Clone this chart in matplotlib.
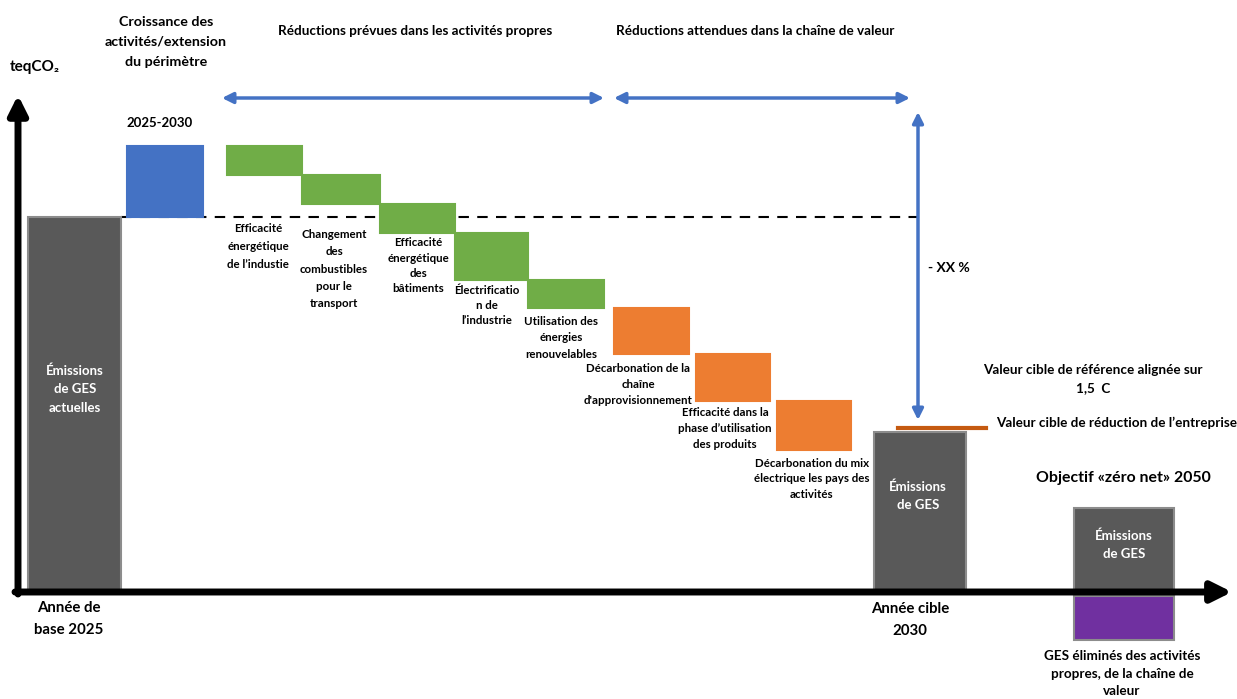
import matplotlib.pyplot as plt

plt.rcParams['font.family'] = ['Lato', 'DejaVu Sans']
plt.rcParams['font.weight'] = 'bold'

# valeurs en teqCO2 (échelle arbitraire, base 2025 = 100)
base_2025 = 100.0
croissance = 19.0
reductions_labels = [
    "Efficacité\nénergétique\nde l’industie",
    "Changement\ndes\ncombustibles\npour le\ntransport",
    "Efficacité\nénergétique\ndes\nbâtiments",
    "Électrificatio\nn de\nl’industrie",
    "Utilisation des\nénergies\nrenouvelables",
    "Décarbonation de la\nchaîne\nd'approvisionnement",
    "Efficacité dans la\nphase d’utilisation\ndes produits",
    "Décarbonation du mix\nélectrique les pays des\nactivités",
]
reductions = [7.8, 7.7, 7.8, 12.5, 7.5, 12.3, 12.6, 13.1]
reductions_type = ['propres'] * 5 + ['chaine'] * 3
cible_2030 = 42.5
cible_entreprise = 43.6
emissions_2050 = 22.2
eliminees_2050 = -13.1

# mise en page (x en pixels)
base_x = (28, 121)
croissance_x = (127, 203)
red_x = [(227, 302), (302, 380), (380, 455), (455, 528), (528, 604),
         (614, 689), (696, 770), (777, 851)]
red_label_pos = [(258, 223), (334, 229), (418, 237), (487, 285), (561, 316),
                 (638, 363), (725, 407), (812, 458)]
red_label_ls = [1.75, 1.7, 1.5, 1.45, 1.6, 1.55, 1.55, 1.5]
cible_x = (874, 966)
zero_x = (1074, 1174)

colors = {'propres': '#70AD47', 'chaine': '#ED7D31'}
gray = '#595959'

fig = plt.figure(figsize=(12.37, 6.99), dpi=100)
ax = fig.add_axes([0, 0, 1, 1])
ax.set_xlim(0, 1237)
Y0 = 591      # ligne de l'axe x (pixels)
S = 3.74      # pixels par unité
ax.set_ylim((Y0 - 699) / S, Y0 / S)
ax.axis('off')


def py(p):
    # ligne en pixels -> valeur
    return (Y0 - p) / S


def bar(x, bottom, top, color, edge=None):
    ax.bar((x[0] + x[1]) / 2, top - bottom, width=x[1] - x[0], bottom=bottom,
           color=color, edgecolor=edge if edge else color, linewidth=1.5, zorder=2)


# base et croissance
bar(base_x, 0, base_2025, gray, '#8c8c8c')
bar(croissance_x, base_2025, base_2025 + croissance, '#4472C4')

level = base_2025 + croissance
for i, r in enumerate(reductions):
    bar(red_x[i], level - r, level, colors[reductions_type[i]])
    level -= r
    lx, ly = red_label_pos[i]
    ax.text(lx, py(ly), reductions_labels[i], ha='center', va='top',
            fontsize=8.3, linespacing=red_label_ls[i], color='black')

bar(cible_x, 0, cible_2030, gray, '#8c8c8c')
bar(zero_x, 0, emissions_2050, gray, '#8c8c8c')
bar(zero_x, eliminees_2050, -1.3, '#7030A0', '#8c8c8c')

# valeur cible de l'entreprise
ax.plot([898, 986], [cible_entreprise, cible_entreprise], color='#C55A11', lw=3, zorder=3)

# ligne pointillée
ax.plot([121, 918], [base_2025, base_2025], color='black', lw=1.5,
        ls=(0, (5, 4)), zorder=1)

# flèches des axes
ax.annotate('', xy=(18, py(95)), xytext=(18, py(594)),
            arrowprops=dict(arrowstyle='-|>', color='black', lw=5, mutation_scale=28,
                            shrinkA=0, shrinkB=0), zorder=4)
ax.annotate('', xy=(1232, py(592)), xytext=(15, py(592)),
            arrowprops=dict(arrowstyle='-|>', color='black', lw=5, mutation_scale=30,
                            shrinkA=0, shrinkB=0), zorder=4)

# flèches bleues
blue = '#4472C4'
for x0, x1 in [(222, 604), (614, 910)]:
    ax.annotate('', xy=(x1, py(98)), xytext=(x0, py(98)),
                arrowprops=dict(arrowstyle='<|-|>', color=blue, lw=2.5, mutation_scale=16,
                                shrinkA=0, shrinkB=0))
ax.annotate('', xy=(918, py(420)), xytext=(918, py(112)),
            arrowprops=dict(arrowstyle='<|-|>', color=blue, lw=2.5, mutation_scale=16,
                            shrinkA=0, shrinkB=0))

# textes
ax.text(10, py(67), 'teqCO₂', ha='left', va='center', fontsize=11)
ax.text(166, py(42), 'Croissance des\nactivités/extension\ndu périmètre', ha='center',
        va='center', fontsize=10.3, linespacing=1.75)
ax.text(160, py(123), '2025-2030', ha='center', va='center', fontsize=9.5)
ax.text(415, py(31), 'Réductions prévues dans les activités propres', ha='center',
        va='center', fontsize=9.7)
ax.text(755, py(31), 'Réductions attendues dans la chaîne de valeur', ha='center',
        va='center', fontsize=9.7)
ax.text(75, py(389), 'Émissions\nde GES\nactuelles', ha='center', va='center',
        fontsize=9.5, color='white', linespacing=1.65)
ax.text(918, py(496), 'Émissions\nde GES', ha='center', va='center',
        fontsize=9.5, color='white', linespacing=1.6)
ax.text(1124, py(545), 'Émissions\nde GES', ha='center', va='center',
        fontsize=9.5, color='white', linespacing=1.55)
ax.text(928, py(268), '- XX %', ha='left', va='center', fontsize=10)
ax.text(1093, py(379), 'Valeur cible de référence alignée sur\n1,5  C', ha='center',
        va='center', fontsize=9.7, linespacing=1.7)
ax.text(996, py(423), 'Valeur cible de réduction de l’entreprise', ha='left',
        va='center', fontsize=9.7)
ax.text(1123, py(478), 'Objectif «zéro net» 2050', ha='center', va='center', fontsize=11.4)
ax.text(69, py(619), 'Année de\nbase 2025', ha='center', va='center', fontsize=10.8,
        linespacing=1.75)
ax.text(910, py(620), 'Année cible\n2030', ha='center', va='center', fontsize=10.8,
        linespacing=1.75)
ax.text(1122, py(650), 'GES éliminés des activités\npropres, de la chaîne de\nvaleur',
        ha='center', va='top', fontsize=9.7, linespacing=1.55)

fig.savefig('out.png', dpi=100)
